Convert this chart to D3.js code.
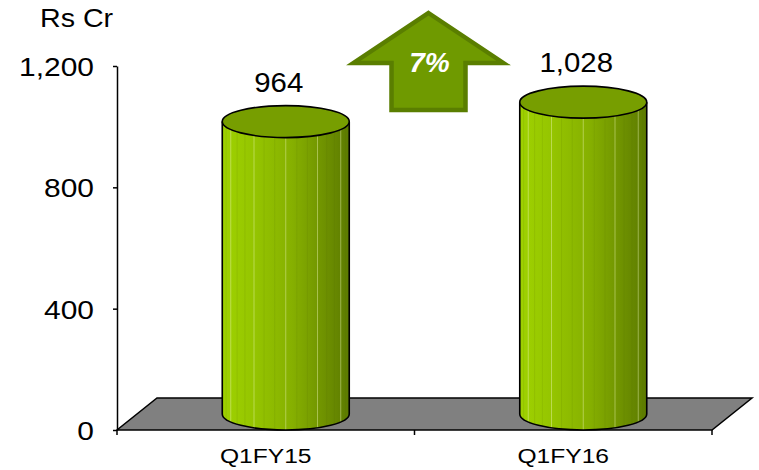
<!DOCTYPE html>
<html>
<head>
<meta charset="utf-8">
<script src="https://cdn.jsdelivr.net/npm/d3@7"></script>
<style>
  body { margin: 0; background: #fff; }
  svg { display: block; font-family: "Liberation Sans", Arial, sans-serif; }
</style>
</head>
<body>
<div id="chart"></div>
<script>
// data
var categories = ["Q1FY15", "Q1FY16"];
var values = [964, 1028];
var valueLabels = ["964", "1,028"];
var yTicks = [0, 400, 800, 1200];
var growthLabel = "7%";
var unitLabel = "Rs Cr";

var width = 759, height = 470;
var plotLeft = 117, plotRight = 712, plotBottom = 430, plotTop = 66;
// 3d floor depth
var depthX = 40, depthY = -32;
var cylW = 127, ry = 16;

var svg = d3.select("#chart").append("svg")
    .attr("width", width)
    .attr("height", height);

var x = d3.scalePoint()
    .domain(categories)
    .range([plotLeft, plotRight])
    .padding(0.5);
var y = d3.scaleLinear()
    .domain([0, 1200])
    .range([plotBottom, plotTop]);

// gradient for cylinder body
var defs = svg.append("defs");
var grad = defs.append("linearGradient").attr("id", "cyl")
    .attr("x1", "0%").attr("x2", "100%").attr("y1", "0%").attr("y2", "0%");
[["0%", "#9fd200"], ["25%", "#95c500"], ["55%", "#86b000"], ["80%", "#6f9200"], ["100%", "#5c7a00"]]
    .forEach(function(s) { grad.append("stop").attr("offset", s[0]).attr("stop-color", s[1]); });

// floor
svg.append("path")
    .attr("d", "M" + plotLeft + "," + plotBottom + "L" + plotRight + "," + plotBottom +
        "L" + (plotRight + depthX) + "," + (plotBottom + depthY) +
        "L" + (plotLeft + depthX) + "," + (plotBottom + depthY) + "Z")
    .attr("fill", "#808080")
    .attr("stroke", "#000")
    .attr("stroke-width", 1.5);

// x ticks at band edges
var step = x.step();
var xTickPos = [plotLeft, plotLeft + step, plotRight];
svg.selectAll(".xtick")
    .data(xTickPos)
    .enter().append("line")
    .attr("x1", function(d) { return d; })
    .attr("x2", function(d) { return d; })
    .attr("y1", plotBottom)
    .attr("y2", plotBottom + 5)
    .attr("stroke", "#000")
    .attr("stroke-width", 1.5);

// y axis
var yAxis = svg.append("g")
    .attr("transform", "translate(" + plotLeft + ",0)")
    .call(d3.axisLeft(y).tickValues(yTicks).tickSize(4).tickSizeOuter(0).tickFormat(d3.format(",")));
yAxis.select(".domain").attr("stroke", "#000").attr("stroke-width", 1.5);
yAxis.selectAll(".tick line").attr("stroke-width", 1.5);
yAxis.selectAll(".tick text")
    .attr("font-size", 26.5)
    .attr("font-family", "Liberation Sans, Arial, sans-serif")
    .attr("fill", "#000")
    .attr("x", -23 / 1.13)
    .attr("dy", "0.36em")
    .attr("transform", "scale(1.13,1)");

// unit label
svg.append("text")
    .attr("transform", "translate(40,27) scale(1.08,1)")
    .attr("font-size", 26.5)
    .text(unitLabel);

// cylinders
var cyl = svg.selectAll(".cyl")
    .data(categories)
    .enter().append("g")
    .attr("class", "cyl");

cyl.each(function(c, i) {
    var g = d3.select(this);
    var cx = x(c) + depthX / 2;
    var rx = cylW / 2;
    var yb = y(0) + depthY / 2;
    var yt = y(values[i]) + depthY / 2;
    g.append("path")
        .attr("d", "M" + (cx - rx) + "," + yt + "L" + (cx - rx) + "," + yb +
            "A" + rx + "," + ry + " 0 0 0 " + (cx + rx) + "," + yb +
            "L" + (cx + rx) + "," + yt + "Z")
        .attr("fill", "url(#cyl)");
    // facet lines
    var n = 18;
    for (var k = 1; k < n; k++) {
        var a = Math.PI * k / n;
        var fx = cx - rx * Math.cos(a);
        var fy = yb + ry * Math.sin(a);
        g.append("line")
            .attr("x1", fx).attr("x2", fx)
            .attr("y1", yt).attr("y2", fy)
            .attr("stroke", k % 3 == 0 ? "#e8f5b0" : "#4f6a00")
            .attr("stroke-opacity", k % 3 == 0 ? 0.45 : 0.12)
            .attr("stroke-width", 1);
    }
    g.append("path")
        .attr("d", "M" + (cx - rx) + "," + yt + "L" + (cx - rx) + "," + yb +
            "A" + rx + "," + ry + " 0 0 0 " + (cx + rx) + "," + yb +
            "L" + (cx + rx) + "," + yt)
        .attr("fill", "none")
        .attr("stroke", "#000")
        .attr("stroke-width", 1.6);
    g.append("ellipse")
        .attr("cx", cx).attr("cy", yt)
        .attr("rx", rx).attr("ry", ry)
        .attr("fill", "#779e00")
        .attr("stroke", "#000")
        .attr("stroke-width", 1.6);
    g.append("text")
        .attr("transform", "translate(" + (cx - 7) + "," + (yt - ry - 14) + ") scale(1.05,1)")
        .attr("text-anchor", "middle")
        .attr("font-size", 28)
        .text(valueLabels[i]);
});

// category labels
svg.selectAll(".xlab")
    .data(categories)
    .enter().append("text")
    .attr("class", "xlab")
    .attr("transform", function(d) { return "translate(" + x(d) + ",463) scale(1.23,1)"; })
    .attr("text-anchor", "middle")
    .attr("font-size", 20)
    .text(function(d) { return d; });

// growth arrow
var ax = (x(categories[0]) + x(categories[1])) / 2 + 14;
var arrowPts = [[0, 13], [75, 63], [37, 63], [37, 110], [-37, 110], [-37, 63], [-75, 63]];
svg.append("path")
    .attr("d", "M" + arrowPts.map(function(p) { return (ax + p[0]) + "," + p[1]; }).join("L") + "Z")
    .attr("fill", "#6f9a00")
    .attr("stroke", "#5a7e00")
    .attr("stroke-width", 4.5)
    .attr("stroke-linejoin", "miter");
svg.append("text")
    .attr("x", ax + 1)
    .attr("y", 72)
    .attr("text-anchor", "middle")
    .attr("font-size", 28)
    .attr("font-weight", "bold")
    .attr("font-style", "italic")
    .attr("fill", "#fff")
    .text(growthLabel);
</script>
</body>
</html>
